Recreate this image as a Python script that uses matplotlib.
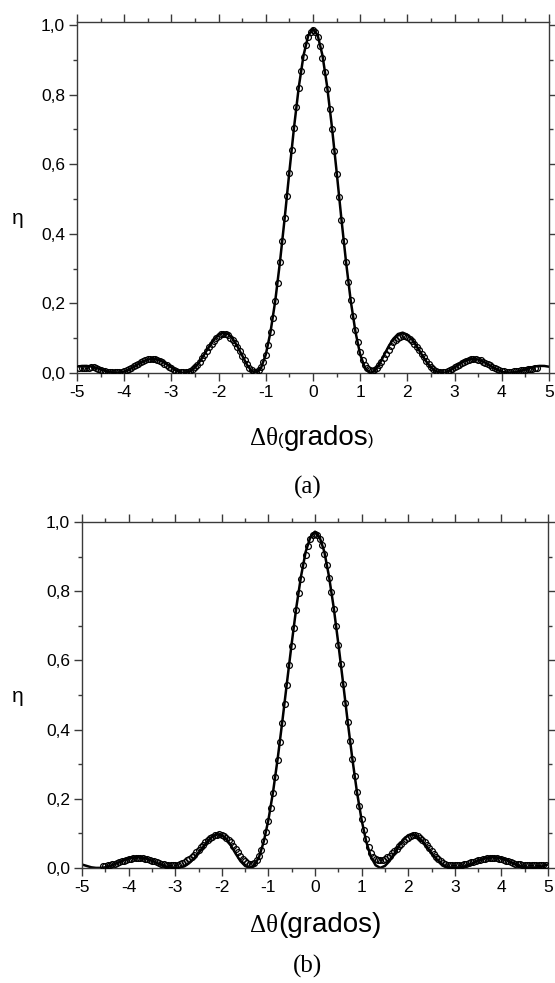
import numpy as np
import matplotlib
matplotlib.use("Agg")
import matplotlib.pyplot as plt
from matplotlib.ticker import MultipleLocator, FuncFormatter

# ---------------- data ----------------
# Panel (a): theoretical curve, x from -5 to 5 step 0.1
a_line_y = [
    0.0181, 0.0202, 0.0204, 0.0187, 0.0152, 0.0107, 0.0060, 0.0022, 0.0001, 0.0006,
    0.0039, 0.0097, 0.0173, 0.0256, 0.0331, 0.0385, 0.0406, 0.0390, 0.0337, 0.0256,
    0.0160, 0.0074, 0.0014, 0.0002, 0.0050, 0.0160, 0.0330, 0.0540, 0.0760, 0.0960,
    0.1100, 0.1160, 0.1120, 0.0980, 0.0760, 0.0500, 0.0240, 0.0054, 0.0004, 0.0150,
    0.0530, 0.1180, 0.2070, 0.3190, 0.4450, 0.5790, 0.7080, 0.8230, 0.9130, 0.9700,
    0.9900,
    0.9700, 0.9130, 0.8230, 0.7080, 0.5790, 0.4450, 0.3190, 0.2070, 0.1180, 0.0530,
    0.0150, 0.0004, 0.0054, 0.0240, 0.0500, 0.0760, 0.0980, 0.1120, 0.1160, 0.1100,
    0.0960, 0.0760, 0.0540, 0.0330, 0.0160, 0.0050, 0.0002, 0.0014, 0.0074, 0.0160,
    0.0256, 0.0337, 0.0390, 0.0406, 0.0385, 0.0331, 0.0256, 0.0173, 0.0097, 0.0039,
    0.0006, 0.0001, 0.0022, 0.0060, 0.0107, 0.0152, 0.0187, 0.0204, 0.0202, 0.0181,
]
a_line_x = np.linspace(-5.0, 5.0, len(a_line_y))

# Panel (a): measured points, x from -4.95 to 4.75 step 0.05
a_pts_y = [
    0.014, 0.014, 0.013, 0.014, 0.015, 0.016, 0.017, 0.014, 0.011, 0.009,
    0.007, 0.005, 0.004, 0.003, 0.002, 0.002, 0.002, 0.003, 0.004, 0.006,
    0.008, 0.011, 0.015, 0.019, 0.023, 0.027, 0.031, 0.034, 0.037, 0.039,
    0.040, 0.040, 0.039, 0.037, 0.035, 0.031, 0.027, 0.023, 0.018, 0.014,
    0.010, 0.007, 0.004, 0.003, 0.003, 0.003, 0.004, 0.007, 0.011, 0.017,
    0.024, 0.033, 0.043, 0.053, 0.063, 0.074, 0.084, 0.093, 0.101, 0.107,
    0.111, 0.112, 0.111, 0.108, 0.102, 0.095, 0.085, 0.074, 0.062, 0.050,
    0.037, 0.025, 0.015, 0.008, 0.004, 0.004, 0.008, 0.016, 0.031, 0.052,
    0.081, 0.117, 0.159, 0.206, 0.260, 0.318, 0.380, 0.444, 0.509, 0.576,
    0.641, 0.705, 0.764, 0.819, 0.867, 0.909, 0.942, 0.966, 0.980,
    0.985,
    0.980, 0.965, 0.940, 0.906, 0.864, 0.816, 0.760, 0.701, 0.637, 0.572,
    0.506, 0.441, 0.378, 0.318, 0.262, 0.210, 0.164, 0.124, 0.089, 0.060,
    0.038, 0.023, 0.013, 0.008, 0.007, 0.009, 0.014, 0.022, 0.032, 0.043,
    0.055, 0.067, 0.078, 0.088, 0.096, 0.101, 0.104, 0.105, 0.105, 0.103,
    0.099, 0.092, 0.084, 0.075, 0.065, 0.055, 0.045, 0.035, 0.026, 0.018,
    0.012, 0.007, 0.004, 0.003, 0.003, 0.004, 0.006, 0.009, 0.012, 0.016,
    0.020, 0.024, 0.028, 0.032, 0.035, 0.037, 0.039, 0.039, 0.039, 0.038,
    0.036, 0.033, 0.030, 0.026, 0.022, 0.018, 0.015, 0.012, 0.009, 0.007,
    0.005, 0.004, 0.004, 0.004, 0.005, 0.006, 0.007, 0.008, 0.009, 0.010,
    0.011, 0.012, 0.012, 0.013, 0.013,
]
a_pts_x = np.linspace(-4.95, 4.75, len(a_pts_y))

# Panel (b): theoretical curve, x from -5 to 5 step 0.1
b_line_y = [
    0.0100, 0.0060, 0.0020, 0.0003, 0.0003, 0.0020, 0.0055, 0.0110, 0.0170, 0.0230,
    0.0280, 0.0305, 0.0310, 0.0295, 0.0260, 0.0210, 0.0150, 0.0090, 0.0040, 0.0010,
    0.0001, 0.0010, 0.0050, 0.0140, 0.0270, 0.0430, 0.0610, 0.0780, 0.0910, 0.0970,
    0.0960, 0.0830, 0.0640, 0.0410, 0.0200, 0.0060, 0.0003, 0.0080, 0.0320, 0.0760,
    0.1390, 0.2200, 0.3170, 0.4250, 0.5380, 0.6490, 0.7540, 0.8430, 0.9140, 0.9560,
    0.9720,
    0.9560, 0.9140, 0.8430, 0.7540, 0.6490, 0.5380, 0.4250, 0.3170, 0.2200, 0.1390,
    0.0760, 0.0320, 0.0080, 0.0003, 0.0060, 0.0200, 0.0410, 0.0640, 0.0830, 0.0950,
    0.0970, 0.0910, 0.0780, 0.0610, 0.0430, 0.0270, 0.0140, 0.0050, 0.0010, 0.0001,
    0.0010, 0.0040, 0.0090, 0.0150, 0.0210, 0.0260, 0.0295, 0.0310, 0.0305, 0.0280,
    0.0230, 0.0170, 0.0110, 0.0055, 0.0020, 0.0003, 0.0003, 0.0020, 0.0060, 0.0100,
]
b_line_x = np.linspace(-5.0, 5.0, len(b_line_y))

# Panel (b): measured points, x from -4.55 to 4.95 step 0.05
b_pts_y = [
    0.006, 0.007, 0.008, 0.009, 0.011, 0.013, 0.015, 0.017, 0.019, 0.021,
    0.023, 0.025, 0.027, 0.028, 0.029, 0.029, 0.029, 0.028, 0.027, 0.025,
    0.023, 0.021, 0.019, 0.017, 0.015, 0.013, 0.011, 0.010, 0.009, 0.008,
    0.008, 0.008, 0.009, 0.011, 0.014, 0.018, 0.022, 0.027, 0.033, 0.039,
    0.046, 0.053, 0.060, 0.067, 0.074, 0.080, 0.086, 0.090, 0.094, 0.096,
    0.097, 0.096, 0.093, 0.088, 0.082, 0.074, 0.065, 0.055, 0.045, 0.035,
    0.026, 0.019, 0.014, 0.012, 0.012, 0.015, 0.022, 0.034, 0.052, 0.077,
    0.104, 0.137, 0.174, 0.216, 0.262, 0.311, 0.363, 0.418, 0.473, 0.530,
    0.586, 0.641, 0.695, 0.746, 0.794, 0.836, 0.875, 0.906, 0.931, 0.950,
    0.961,
    0.965,
    0.962, 0.951, 0.933, 0.908, 0.877, 0.838, 0.797, 0.749, 0.698, 0.644,
    0.589, 0.533, 0.477, 0.422, 0.368, 0.316, 0.267, 0.221, 0.180, 0.143,
    0.111, 0.083, 0.061, 0.044, 0.032, 0.025, 0.022, 0.022, 0.024, 0.027,
    0.031, 0.036, 0.042, 0.049, 0.056, 0.063, 0.070, 0.077, 0.083, 0.088,
    0.092, 0.094, 0.094, 0.092, 0.088, 0.082, 0.075, 0.067, 0.058, 0.049,
    0.040, 0.032, 0.025, 0.019, 0.015, 0.012, 0.010, 0.009, 0.008, 0.008,
    0.008, 0.009, 0.010, 0.011, 0.012, 0.014, 0.016, 0.018, 0.020, 0.022,
    0.024, 0.026, 0.027, 0.028, 0.029, 0.029, 0.029, 0.028, 0.027, 0.025,
    0.023, 0.021, 0.019, 0.017, 0.015, 0.013, 0.012, 0.011, 0.010, 0.009,
    0.009, 0.008, 0.008, 0.008, 0.008, 0.008, 0.008, 0.008, 0.008,
]
b_pts_x = np.linspace(-4.55, 4.95, len(b_pts_y))

x_ticks = [-5, -4, -3, -2, -1, 0, 1, 2, 3, 4, 5]
y_ticks = [0.0, 0.2, 0.4, 0.6, 0.8, 1.0]

# ---------------- figure ----------------
W, H = 555, 983
fig = plt.figure(figsize=(W / 100, H / 100), dpi=100)
SANS = ["Liberation Sans", "DejaVu Sans"]
SERIF = ["Liberation Serif", "DejaVu Serif"]
plt.rcParams["font.family"] = SANS

spine_col = "#3a3a3a"


def px_rect(l, t, r, b):
    return [l / W, 1 - b / H, (r - l) / W, (b - t) / H]


def style_axes(ax, ytop):
    ax.set_xlim(-5, 5)
    ax.set_ylim(0, ytop)
    ax.set_xticks(x_ticks)
    ax.set_yticks(y_ticks)
    ax.xaxis.set_minor_locator(MultipleLocator(0.5))
    ax.yaxis.set_minor_locator(MultipleLocator(0.1))
    ax.yaxis.set_major_formatter(FuncFormatter(lambda v, p: f"{v:.1f}".replace(".", ",")))
    ax.xaxis.set_major_formatter(FuncFormatter(lambda v, p: f"{int(round(v))}"))
    for s in ax.spines.values():
        s.set_linewidth(1.0)
        s.set_color(spine_col)
    ax.tick_params(which="both", direction="out", top=True, right=True,
                   labeltop=False, labelright=False, color=spine_col, width=1.0)
    ax.tick_params(which="major", length=5.5, labelsize=12.5, pad=3)
    ax.tick_params(which="minor", length=3)
    for lab in ax.get_xticklabels() + ax.get_yticklabels():
        lab.set_family(SANS)


ax_a = fig.add_axes(px_rect(77, 22, 549, 373))
ax_a.plot(a_line_x, a_line_y, color="black", lw=1.8, zorder=2)
ax_a.plot(a_pts_x, a_pts_y, linestyle="none", marker="o", ms=4.2,
          mfc="none", mec="black", mew=0.9, zorder=3)
style_axes(ax_a, 1.0086)

ax_b = fig.add_axes(px_rect(82, 522, 548, 868))
ax_b.plot(b_line_x, b_line_y, color="black", lw=1.8, zorder=2)
ax_b.plot(b_pts_x, b_pts_y, linestyle="none", marker="o", ms=4.2,
          mfc="none", mec="black", mew=0.9, zorder=3)
style_axes(ax_b, 1.0)

# y labels
fig.text(18 / W, 1 - 218 / H, "η", family=SANS, fontsize=15, ha="center", va="center")
fig.text(18 / W, 1 - 697 / H, "η", family=SANS, fontsize=15, ha="center", va="center")

# x labels built from pieces with a shared baseline
fig.canvas.draw()
renderer = fig.canvas.get_renderer()


def chain(x0_px, base_px, pieces):
    x = x0_px
    for txt, fam, size in pieces:
        t = fig.text(x / W, 1 - base_px / H, txt, family=fam, fontsize=size,
                     ha="left", va="baseline")
        bb = t.get_window_extent(renderer=renderer)
        x += bb.width


chain(250, 445, [("Δθ", SERIF, 18), ("(", SANS, 12), ("grados", SANS, 20), (")", SANS, 12)])
chain(250, 932, [("Δθ", SERIF, 18), ("(grados)", SANS, 20)])

fig.text(308 / W, 1 - 487 / H, "(a)", family=SERIF, fontsize=18, ha="center", va="center")
fig.text(307 / W, 1 - 966 / H, "(b)", family=SERIF, fontsize=18, ha="center", va="center")

fig.savefig("out.png", dpi=100, facecolor="white")
